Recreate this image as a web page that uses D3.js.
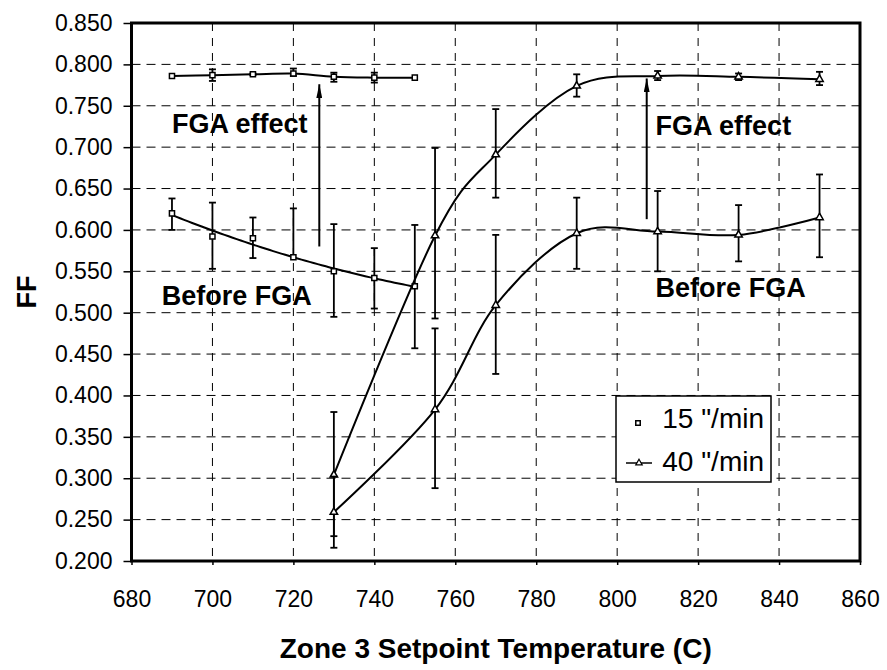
<!DOCTYPE html>
<html>
<head>
<meta charset="utf-8">
<script src="https://d3js.org/d3.v7.min.js"></script>
<style>
    body { margin: 0; background: #fff; }
    svg { display: block; font-family: "Liberation Sans", Arial, sans-serif; }
    .axis text { font-size: 23px; fill: #000; }
    .axis path { display: none; }
    .axis line { stroke: #000; stroke-width: 1.5; }
    .grid line { stroke: #000; stroke-width: 1; stroke-dasharray: 9, 6; }
    .note { font-size: 27px; font-weight: bold; }
</style>
</head>
<body>
<script>

// ---- data ----
var xTicks = [680, 700, 720, 740, 760, 780, 800, 820, 840, 860];
var yTicks = [0.20, 0.25, 0.30, 0.35, 0.40, 0.45, 0.50, 0.55, 0.60, 0.65, 0.70, 0.75, 0.80, 0.85];

// 15 "/min
var temps15 = [690, 700, 710, 720, 730, 740, 750];
var before15 = [0.620, 0.592, 0.590, 0.567, 0.550, 0.542, 0.532];
var before15Hi = [0.638, 0.633, 0.615, 0.626, 0.607, 0.578, 0.606];
var before15Lo = [0.600, 0.553, 0.566, 0.567, 0.495, 0.505, 0.457];
var after15 = [0.786, 0.787, 0.788, 0.789, 0.785, 0.784, 0.784];
var after15Hi = [0.786, 0.794, 0.789, 0.795, 0.790, 0.790, 0.784];
var after15Lo = [0.786, 0.780, 0.787, 0.786, 0.779, 0.778, 0.784];

// 40 "/min
var temps40 = [730, 755, 770, 790, 810, 830, 850];
var before40 = [0.259, 0.383, 0.509, 0.596, 0.598, 0.594, 0.615];
var before40Hi = [0.302, 0.481, 0.594, 0.639, 0.647, 0.630, 0.667];
var before40Lo = [0.216, 0.288, 0.426, 0.553, 0.550, 0.562, 0.567];
var after40 = [0.304, 0.593, 0.691, 0.774, 0.786, 0.785, 0.782];
var after40Hi = [0.380, 0.699, 0.746, 0.788, 0.792, 0.789, 0.791];
var after40Lo = [0.230, 0.493, 0.639, 0.761, 0.781, 0.781, 0.775];

// annotations
var arrowX = [726.4, 807.3];
var arrowFrom = [0.580, 0.613];
var arrowTo = [0.776, 0.783];
var noteText = ["FGA effect", "FGA effect", "Before FGA", "Before FGA"];
var noteX = [690, 809.5, 687.5, 809.5];
var noteY = [0.717, 0.715, 0.509, 0.519];

var legendLabels = ['15 "/min', '40 "/min'];

// ---- layout ----
var margin = { top: 23, right: 27, bottom: 109, left: 131.5 };
var width = 887 - margin.left - margin.right,
    height = 670 - margin.top - margin.bottom;

var svg = d3.select("body").append("svg")
    .attr("width", 887)
    .attr("height", 670);

var g = svg.append("g")
    .attr("transform", "translate(" + margin.left + "," + margin.top + ")");

var x = d3.scaleLinear().domain([680, 860]).range([0, width]);
var y = d3.scaleLinear().domain([0.2, 0.85]).range([height, 0]);

// dashed grid
g.append("g").attr("class", "grid")
    .selectAll("line")
    .data(yTicks.slice(1, -1))
    .enter().append("line")
    .attr("x1", 0).attr("x2", width)
    .attr("y1", function (d) { return y(d); })
    .attr("y2", function (d) { return y(d); });

g.append("g").attr("class", "grid")
    .selectAll("line")
    .data(xTicks.slice(1, -1))
    .enter().append("line")
    .attr("y1", 0).attr("y2", height)
    .attr("x1", function (d) { return x(d); })
    .attr("x2", function (d) { return x(d); })
    .style("stroke-dasharray", "8,7");

// axes
g.append("g").attr("class", "y axis")
    .call(d3.axisLeft(y).tickValues(yTicks).tickSize(8).tickPadding(11)
        .tickFormat(d3.format(".3f")));

g.append("g").attr("class", "x axis")
    .attr("transform", "translate(0," + height + ")")
    .call(d3.axisBottom(x).tickValues(xTicks).tickSize(4).tickPadding(26)
        .tickFormat(d3.format("d")));

svg.append("text")
    .attr("transform", "translate(36," + (margin.top + height / 2) + ") rotate(-90)")
    .style("text-anchor", "middle")
    .style("font-size", "27px")
    .style("font-weight", "bold")
    .text("FF");

svg.append("text")
    .attr("x", margin.left + width / 2)
    .attr("y", 658)
    .style("text-anchor", "middle")
    .style("font-size", "28px")
    .style("font-weight", "bold")
    .text("Zone 3 Setpoint Temperature (C)");

// quadratic trend for the 15 "/min before-FGA points
function quadFit(xs, ys) {
    var m = d3.mean(xs);
    var s = [0, 0, 0, 0, 0], t = [0, 0, 0];
    xs.forEach(function (xv, i) {
        var u = xv - m;
        for (var k = 0; k < 5; k++) s[k] += Math.pow(u, k);
        for (var k2 = 0; k2 < 3; k2++) t[k2] += ys[i] * Math.pow(u, k2);
    });
    var A = [[s[0], s[1], s[2]], [s[1], s[2], s[3]], [s[2], s[3], s[4]]];
    var det = function (M) {
        return M[0][0] * (M[1][1] * M[2][2] - M[1][2] * M[2][1])
            - M[0][1] * (M[1][0] * M[2][2] - M[1][2] * M[2][0])
            + M[0][2] * (M[1][0] * M[2][1] - M[1][1] * M[2][0]);
    };
    var D = det(A);
    var c = [0, 1, 2].map(function (j) {
        var B = A.map(function (row, r) { return row.map(function (v, col) { return col === j ? t[r] : v; }); });
        return det(B) / D;
    });
    return function (xv) { var u = xv - m; return c[0] + c[1] * u + c[2] * u * u; };
}
var trend15 = quadFit(temps15, before15);

var smooth = d3.line()
    .x(function (d) { return x(d[0]); })
    .y(function (d) { return y(d[1]); })
    .curve(d3.curveCardinal.tension(0));

var trendPts = d3.range(temps15[0], temps15[temps15.length - 1] + 0.1, 1)
    .map(function (t) { return [t, trend15(t)]; });

var straight = d3.line()
    .x(function (d) { return x(d[0]); })
    .y(function (d) { return y(d[1]); });

g.append("path").datum(trendPts).attr("d", straight)
    .attr("fill", "none").attr("stroke", "#000").attr("stroke-width", 2);

var series = [
    { t: temps15, v: after15, hi: after15Hi, lo: after15Lo, shape: "square" },
    { t: temps15, v: before15, hi: before15Hi, lo: before15Lo, shape: "square", noLine: true },
    { t: temps40, v: after40, hi: after40Hi, lo: after40Lo, shape: "triangle" },
    { t: temps40, v: before40, hi: before40Hi, lo: before40Lo, shape: "triangle" }
];

series.forEach(function (s) {
    var pts = s.t.map(function (t, i) { return [t, s.v[i]]; });
    if (!s.noLine) {
        g.append("path").datum(pts).attr("d", smooth)
            .attr("fill", "none").attr("stroke", "#000").attr("stroke-width", 2);
    }
    var bars = g.append("g").selectAll("g")
        .data(s.t.map(function (t, i) { return { t: t, v: s.v[i], hi: s.hi[i], lo: s.lo[i] }; }))
        .enter().append("g")
        .attr("stroke", "#000").attr("stroke-width", 1.8);
    bars.append("line")
        .attr("x1", function (d) { return x(d.t); })
        .attr("x2", function (d) { return x(d.t); })
        .attr("y1", function (d) { return y(d.hi); })
        .attr("y2", function (d) { return y(d.lo); });
    bars.filter(function (d) { return d.hi > d.v; }).append("line")
        .attr("x1", function (d) { return x(d.t) - 3.5; })
        .attr("x2", function (d) { return x(d.t) + 3.5; })
        .attr("y1", function (d) { return y(d.hi); })
        .attr("y2", function (d) { return y(d.hi); });
    bars.filter(function (d) { return d.lo < d.v; }).append("line")
        .attr("x1", function (d) { return x(d.t) - 3.5; })
        .attr("x2", function (d) { return x(d.t) + 3.5; })
        .attr("y1", function (d) { return y(d.lo); })
        .attr("y2", function (d) { return y(d.lo); });

    var sym = d3.symbol().type(s.shape === "square" ? d3.symbolSquare : d3.symbolTriangle)
        .size(s.shape === "square" ? 26 : 24);
    g.append("g").selectAll("path")
        .data(pts)
        .enter().append("path")
        .attr("d", sym)
        .attr("transform", function (d) { return "translate(" + x(d[0]) + "," + y(d[1]) + ")"; })
        .attr("fill", "#fff").attr("stroke", "#000").attr("stroke-width", 1.5);
});

// arrows
svg.append("defs").append("marker")
    .attr("id", "head")
    .attr("viewBox", "0 0 6 14")
    .attr("refX", 3).attr("refY", 0)
    .attr("markerWidth", 6).attr("markerHeight", 14)
    .attr("markerUnits", "userSpaceOnUse")
    .attr("orient", "0")
    .append("path")
    .attr("d", "M0,14 L3,0 L6,14 Z")
    .attr("fill", "#000");

g.selectAll(".arrow")
    .data(arrowX)
    .enter().append("line")
    .attr("class", "arrow")
    .attr("x1", function (d) { return x(d); })
    .attr("x2", function (d) { return x(d); })
    .attr("y1", function (d, i) { return y(arrowFrom[i]); })
    .attr("y2", function (d, i) { return y(arrowTo[i]); })
    .attr("stroke", "#000").attr("stroke-width", 2)
    .attr("marker-end", "url(#head)");

// notes
g.selectAll(".note")
    .data(noteText)
    .enter().append("text")
    .attr("class", "note")
    .attr("x", function (d, i) { return x(noteX[i]); })
    .attr("y", function (d, i) { return y(noteY[i]); })
    .text(function (d) { return d; });

// legend
var legend = svg.append("g").attr("transform", "translate(616,396)");
legend.append("rect")
    .attr("width", 155).attr("height", 86)
    .attr("fill", "#fff").attr("stroke", "#000").attr("stroke-width", 1.5);

legend.append("path")
    .attr("d", d3.symbol().type(d3.symbolSquare).size(20))
    .attr("transform", "translate(22,27)")
    .attr("fill", "#fff").attr("stroke", "#000").attr("stroke-width", 1.5);
legend.append("line")
    .attr("x1", 10).attr("x2", 36).attr("y1", 67).attr("y2", 67)
    .attr("stroke", "#000").attr("stroke-width", 1.5);
legend.append("path")
    .attr("d", d3.symbol().type(d3.symbolTriangle).size(18))
    .attr("transform", "translate(23,67)")
    .attr("fill", "#fff").attr("stroke", "#000").attr("stroke-width", 1.2);

legend.selectAll(".legend-text")
    .data(legendLabels)
    .enter().append("text")
    .attr("class", "legend-text")
    .attr("x", 148)
    .attr("y", function (d, i) { return 32 + i * 43; })
    .style("text-anchor", "end")
    .style("font-size", "28px")
    .text(function (d) { return d; });

// frame
g.append("rect")
    .attr("width", width).attr("height", height)
    .attr("fill", "none").attr("stroke", "#000").attr("stroke-width", 3);

</script>
</body>
</html>
